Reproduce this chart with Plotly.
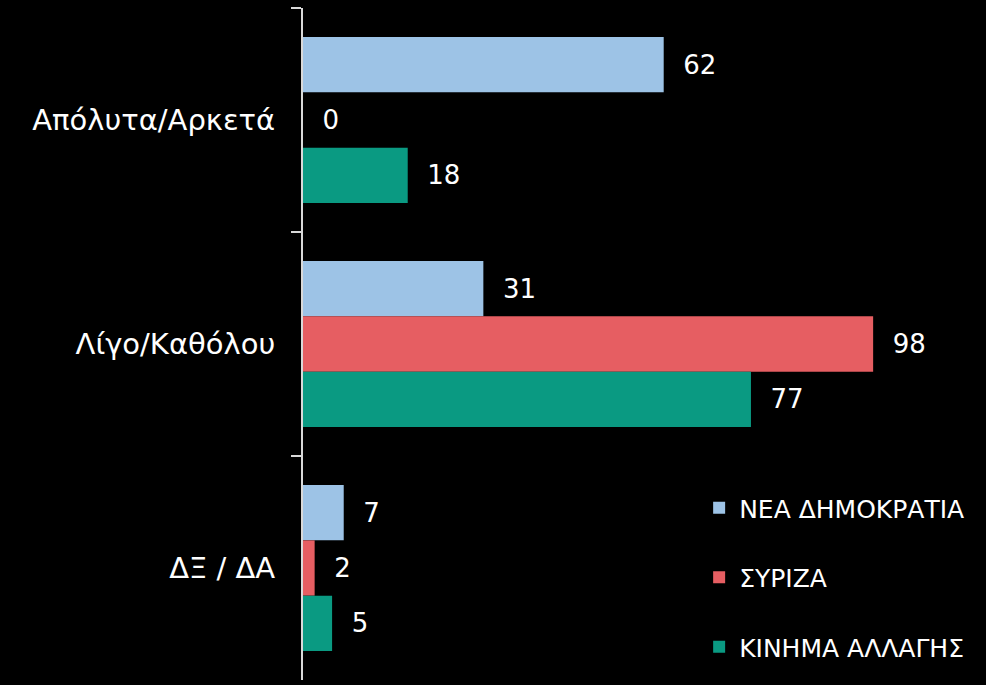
import plotly.graph_objects as go

categories = ["Απόλυτα/Αρκετά", "Λίγο/Καθόλου", "ΔΞ / ΔΑ"]
series_names = ["ΝΕΑ ΔΗΜΟΚΡΑΤΙΑ", "ΣΥΡΙΖΑ", "ΚΙΝΗΜΑ ΑΛΛΑΓΗΣ"]
nd_values = [62, 31, 7]
syriza_values = [0, 98, 2]
kinal_values = [18, 77, 5]

colors = ["#9DC3E6", "#E65E62", "#0A9A82"]
FONT = "Century Gothic, DejaVu Sans, Noto Sans, sans-serif"

fig = go.Figure()
for name, vals, col in zip(series_names, [nd_values, syriza_values, kinal_values], colors):
    fig.add_trace(
        go.Bar(
            y=categories,
            x=vals,
            name=name,
            orientation="h",
            marker=dict(color=col, line=dict(width=0)),
            text=vals,
            texttemplate="\u00a0\u00a0%{x}",
            textposition="outside",
            textfont=dict(color="white", size=26, family=FONT),
            cliponaxis=False,
            legendgroup=name,
        )
    )

fig.update_layout(
    width=986,
    height=685,
    paper_bgcolor="black",
    plot_bgcolor="black",
    barmode="group",
    bargap=0.26,
    bargroupgap=0,
    margin=dict(l=303, r=0, t=8, b=5),
    font=dict(family=FONT, color="white"),
    showlegend=True,
    legend=dict(
        x=0.58,
        y=0.29,
        xanchor="left",
        yanchor="top",
        traceorder="grouped",
        tracegroupgap=34,
        font=dict(size=25, color="white", family=FONT),
        bgcolor="rgba(0,0,0,0)",
    ),
    xaxis=dict(
        range=[0, 117.4],
        visible=False,
        showgrid=False,
        zeroline=False,
    ),
    yaxis=dict(
        autorange="reversed",
        showgrid=False,
        showline=True,
        linecolor="#D9D9D9",
        linewidth=2,
        ticks="outside",
        tickson="boundaries",
        ticklen=10,
        tickcolor="#D9D9D9",
        tickwidth=2,
        ticklabelstandoff=20,
        tickfont=dict(size=29, color="white", family=FONT),
    ),
)

fig.write_html(
    "out.html",
    config={"displayModeBar": False},
    post_script="document.body.style.margin='0';document.body.style.background='black';",
)
